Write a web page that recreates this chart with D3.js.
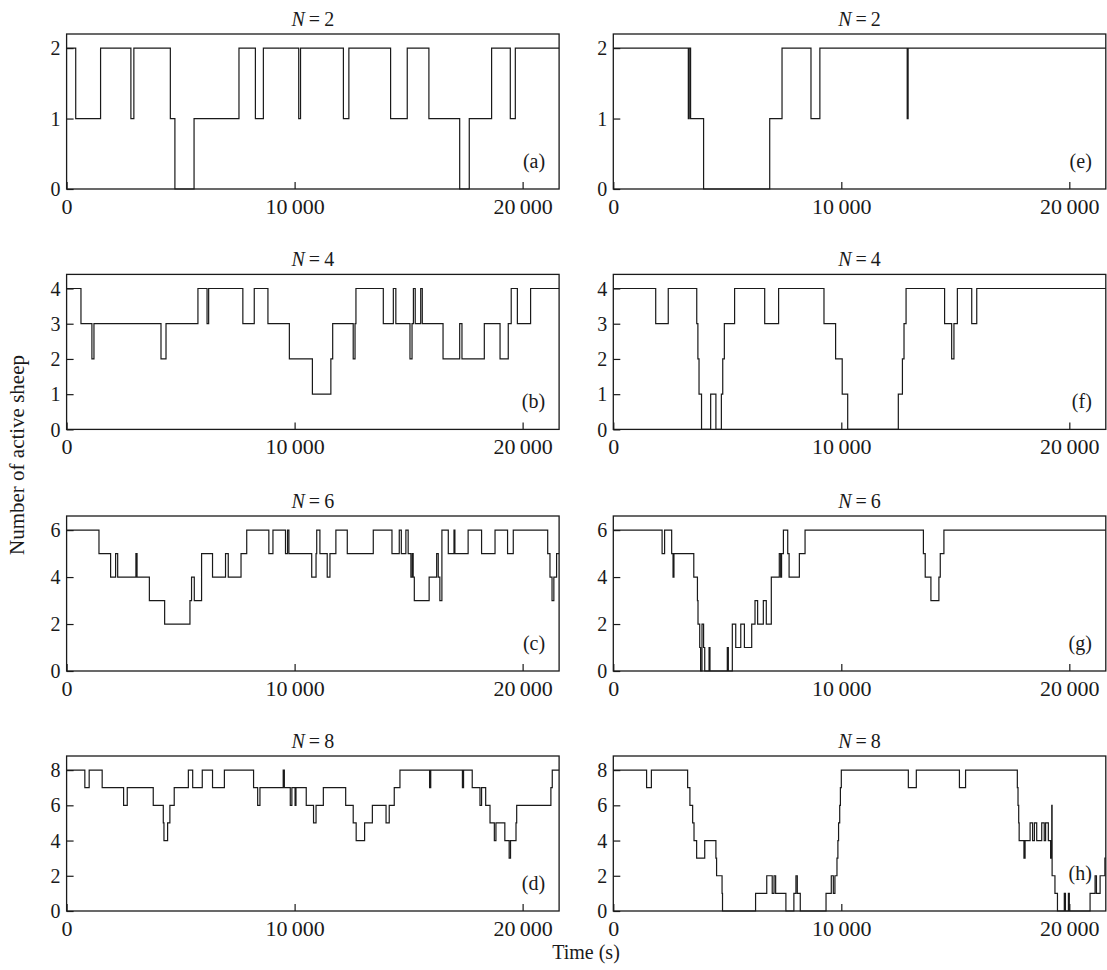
<!DOCTYPE html>
<html>
<head>
<meta charset="utf-8">
<script src="https://cdn.jsdelivr.net/npm/d3@7"></script>
<style>
  body { margin: 0; background: #fff; }
  svg { display: block; }
  svg text { font-family: "Liberation Serif", "DejaVu Serif", serif; fill: #1a1a1a; }
</style>
</head>
<body>
<svg id="chart" width="1107" height="970"></svg>
<script>
// Step series: each level holds from its change time until the next one (s).
const timesA  = [0, 400, 1490, 2820, 2950, 4550, 4750, 5590, 7560, 8280, 8630, 10180, 10260, 12140, 12380, 14210, 14940, 15890, 17240, 17660, 18640, 19460, 19680];
const levelsA = [2, 1, 2, 1, 2, 1, 0, 1, 2, 1, 2, 1, 2, 1, 2, 1, 2, 1, 0, 1, 2, 1, 2];

const timesB  = [0, 630, 1110, 1200, 4140, 4360, 5760, 6160, 6230, 7730, 8230, 8830, 9770, 10780, 11590, 11670, 12570, 12650, 12690, 13890, 14330, 14440, 15060, 15150, 15210, 15290, 15530, 15600, 16510, 17240, 17340, 18320, 19010, 19370, 19500, 19770, 20350];
const levelsB = [4, 3, 2, 3, 2, 3, 4, 3, 4, 3, 4, 3, 2, 1, 2, 3, 2, 3, 4, 3, 4, 3, 2, 3, 4, 3, 4, 3, 2, 3, 2, 3, 2, 3, 4, 3, 4];

const timesC  = [0, 1420, 1930, 2150, 2240, 3040, 3090, 3630, 4300, 5410, 5480, 5600, 5920, 6400, 6970, 7090, 7650, 7900, 8870, 9050, 9600, 9690, 9750, 10750, 10940, 10970, 11110, 11430, 11550, 11810, 12310, 13450, 14270, 14590, 14680, 14880, 14980, 15100, 15160, 15200, 15250, 15900, 16230, 16300, 16370, 16460, 16740, 16990, 17030, 17610, 18200, 18790, 19340, 19590, 21100, 21200, 21290, 21370, 21490];
const levelsC = [6, 5, 4, 5, 4, 5, 4, 3, 2, 3, 4, 3, 5, 4, 5, 4, 5, 6, 5, 6, 5, 6, 5, 4, 5, 6, 5, 4, 5, 6, 5, 6, 5, 6, 5, 6, 5, 4, 5, 4, 3, 4, 5, 4, 3, 6, 5, 6, 5, 6, 5, 6, 5, 6, 5, 4, 3, 4, 5];

const timesD  = [0, 800, 990, 1560, 2500, 2660, 3800, 4240, 4270, 4430, 4530, 4720, 5340, 5530, 5950, 6400, 6920, 8200, 8380, 8480, 9500, 9550, 9810, 9880, 10020, 10060, 10510, 10830, 10940, 11260, 12240, 12570, 12700, 13070, 13410, 14010, 14150, 14370, 14620, 15920, 15970, 17360, 17410, 17790, 18130, 18200, 18380, 18570, 18760, 18830, 19220, 19410, 19470, 19710, 19740, 21240, 21300];
const levelsD = [8, 7, 8, 7, 6, 7, 6, 5, 4, 5, 6, 7, 8, 7, 8, 7, 8, 7, 6, 7, 8, 7, 6, 7, 6, 7, 6, 5, 6, 7, 6, 5, 4, 5, 6, 5, 6, 7, 8, 7, 8, 7, 8, 7, 6, 7, 6, 5, 4, 5, 4, 3, 4, 5, 6, 7, 8];

const timesE  = [0, 3290, 3330, 3390, 3960, 6860, 7400, 8670, 9060, 12890, 12930];
const levelsE = [2, 1, 2, 1, 0, 1, 2, 1, 2, 1, 2];

const timesF  = [0, 1860, 2410, 3660, 3710, 3760, 3870, 4270, 4500, 4740, 4800, 4870, 5320, 6640, 7250, 9240, 9750, 10040, 10280, 12500, 12680, 12750, 12840, 14530, 14840, 14940, 15090, 15720, 15940];
const levelsF = [4, 3, 4, 3, 2, 1, 0, 1, 0, 1, 2, 3, 4, 3, 4, 3, 2, 1, 0, 1, 2, 3, 4, 3, 2, 3, 4, 3, 4];

const timesG  = [0, 2140, 2250, 2560, 2620, 2660, 3530, 3690, 3715, 3790, 3830, 3890, 3960, 4010, 4200, 4240, 5000, 5045, 5220, 5370, 5590, 5750, 6070, 6215, 6330, 6580, 6710, 6930, 7280, 7340, 7380, 7460, 7650, 7710, 8160, 8410, 13600, 13680, 13930, 14280, 14340, 14500];
const levelsG = [6, 5, 6, 5, 4, 5, 4, 3, 2, 1, 0, 2, 1, 0, 1, 0, 1, 0, 2, 1, 2, 1, 2, 3, 2, 3, 2, 4, 5, 4, 5, 6, 5, 4, 5, 6, 5, 4, 3, 4, 5, 6];

const timesH  = [0, 1460, 1670, 3260, 3360, 3480, 3540, 3655, 4010, 4500, 4530, 4770, 4790, 6240, 6730, 6970, 7050, 7120, 7570, 7920, 8010, 8070, 8200, 9330, 9560, 9650, 9720, 9810, 9850, 9880, 9930, 9960, 10000, 12940, 13290, 15180, 15450, 17720, 17750, 17780, 17800, 18010, 18060, 18280, 18390, 18470, 18570, 18790, 18900, 18960, 19080, 19180, 19230, 19245, 19370, 19480, 19780, 19830, 19960, 20000, 20910, 21130, 21190, 21350, 21560];
const levelsH = [8, 7, 8, 7, 6, 5, 4, 3, 4, 3, 2, 1, 0, 1, 2, 1, 2, 1, 0, 1, 2, 1, 0, 1, 2, 1, 2, 3, 4, 5, 6, 7, 8, 7, 8, 7, 8, 7, 6, 5, 4, 3, 4, 5, 4, 5, 4, 5, 4, 5, 4, 3, 6, 2, 1, 0, 1, 0, 1, 0, 1, 2, 1, 2, 3];

// Flock sizes per row, panel tags, axis ticks
const groupSizes = [2, 4, 6, 8];
const panelTags = [["(a)", "(e)"], ["(b)", "(f)"], ["(c)", "(g)"], ["(d)", "(h)"]];
const yTickSets = [[0, 1, 2], [0, 1, 2, 3, 4], [0, 2, 4, 6], [0, 2, 4, 6, 8]];
const xTicks = [0, 10000, 20000];
const xTickLabels = ["0", "10\u2009000", "20\u2009000"];
const tEnd = 21600;

const seriesGrid = [
  [[timesA, levelsA], [timesE, levelsE]],
  [[timesB, levelsB], [timesF, levelsF]],
  [[timesC, levelsC], [timesG, levelsG]],
  [[timesD, levelsD], [timesH, levelsH]]
];

const serif = '"Liberation Serif", "DejaVu Serif", serif';
const svg = d3.select("#chart").attr("font-family", serif);
const W = 492.5, H = 155;
const colX = [66.6, 613.3];
const rowY = [34, 274.4, 516, 756];
const ink = "#1a1a1a";

seriesGrid.forEach((row, r) => {
  row.forEach(([times, levels], c) => {
    const n = groupSizes[r];
    const g = svg.append("g").attr("transform", `translate(${colX[c]},${rowY[r]})`);
    const x = d3.scaleLinear().domain([0, tEnd]).range([0, W]);
    const y = d3.scaleLinear().domain([0, 1.1 * n]).range([H, 0]);

    const pts = times.map((t, i) => [t, levels[i]]);
    pts.push([tEnd, levels[levels.length - 1]]);

    const line = d3.line()
      .x(d => x(d[0]))
      .y(d => y(d[1]))
      .curve(d3.curveStepAfter);

    g.append("path")
      .datum(pts)
      .attr("d", line)
      .attr("fill", "none")
      .attr("stroke", ink)
      .attr("stroke-width", 1.2);

    // axes with inward ticks
    const xAxis = d3.axisBottom(x)
      .tickValues(xTicks)
      .tickFormat((d, i) => xTickLabels[i])
      .tickSize(-7)
      .tickPadding(9);
    const gx = g.append("g").attr("transform", `translate(0,${H})`).call(xAxis)
      .attr("font-family", serif).attr("font-size", 22);
    gx.select(".domain").remove();
    gx.selectAll("line").attr("stroke", ink).attr("stroke-width", 1.2);
    gx.selectAll("text").attr("fill", ink);

    const yAxis = d3.axisLeft(y)
      .tickValues(yTickSets[r])
      .tickFormat(d3.format("d"))
      .tickSize(-7)
      .tickPadding(6);
    const gy = g.append("g").call(yAxis)
      .attr("font-family", serif).attr("font-size", 20);
    gy.select(".domain").remove();
    gy.selectAll("line").attr("stroke", ink).attr("stroke-width", 1.2);
    gy.selectAll("text").attr("fill", ink).attr("dy", "0.33em");

    // frame
    g.append("rect")
      .attr("width", W).attr("height", H)
      .attr("fill", "none")
      .attr("stroke", ink)
      .attr("stroke-width", 1.3);

    // title
    const title = g.append("text")
      .attr("x", W / 2).attr("y", -8)
      .attr("text-anchor", "middle")
      .attr("font-size", 20);
    title.append("tspan").attr("font-style", "italic").text("N");
    title.append("tspan").text("\u2009=\u2009" + n);

    // panel tag
    const tagLift = (r === 3 && c === 1) ? 10 : 0;
    g.append("text")
      .attr("x", W - 14).attr("y", H - 21.5 - tagLift)
      .attr("text-anchor", "end")
      .attr("font-size", 20)
      .text(panelTags[r][c]);
  });
});

// shared axis titles
svg.append("text")
  .attr("transform", "translate(24,455) rotate(-90)")
  .attr("text-anchor", "middle")
  .attr("font-size", 21)
  .text("Number of active sheep");

svg.append("text")
  .attr("x", 586).attr("y", 959)
  .attr("text-anchor", "middle")
  .attr("font-size", 20)
  .text("Time (s)");
</script>
</body>
</html>
